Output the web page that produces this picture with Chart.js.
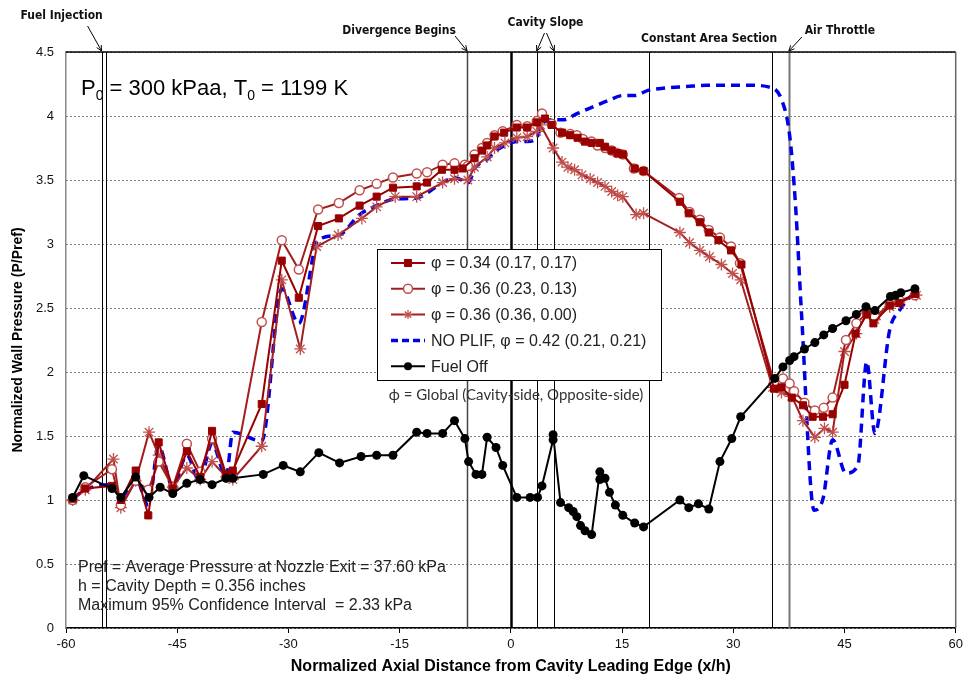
<!DOCTYPE html>
<html><head><meta charset="utf-8">
<script src="https://cdn.jsdelivr.net/npm/chart.js@4.4.0/dist/chart.umd.min.js"></script>
<style>html,body{margin:0;padding:0;background:#fff;} canvas{display:block;}</style>
</head><body>
<canvas id="c" width="963" height="682"></canvas>
<script>
// ---------------- DATA ----------------
const seriesNames = [
  'φ = 0.34 (0.17, 0.17)',
  'φ = 0.36 (0.23, 0.13)',
  'φ = 0.36 (0.36, 0.00)',
  'NO PLIF, φ = 0.42 (0.21, 0.21)',
  'Fuel Off'
];

const sqX = [-59.1,-57.4,-53.8,-52.6,-50.6,-48.9,-47.5,-45.6,-43.7,-41.9,-40.3,-38.4,-37.5,-33.6,-30.9,-28.6,-26.0,-23.2,-20.4,-18.1,-15.9,-12.7,-11.3,-9.3,-7.6,-6.5,-4.9,-3.9,-3.2,-2.2,-0.9,0.8,2.2,3.5,4.6,5.5,6.9,8.0,9.0,10.0,10.9,12.0,12.7,13.6,14.4,15.1,16.7,17.9,22.8,24.0,25.5,26.7,28.0,29.7,31.1,35.5,36.5,37.9,39.4,40.7,42.1,43.4,45.0,46.5,48.0,48.9,51.1,52.4,54.5];
const sqY = [1.01,1.09,1.11,1.00,1.23,0.88,1.45,1.09,1.38,1.18,1.54,1.20,1.23,1.75,2.87,2.58,3.14,3.20,3.30,3.37,3.44,3.45,3.48,3.58,3.58,3.59,3.67,3.73,3.77,3.84,3.87,3.91,3.91,3.95,3.98,3.93,3.87,3.85,3.83,3.80,3.79,3.79,3.76,3.73,3.71,3.70,3.59,3.57,3.33,3.24,3.17,3.09,3.03,2.95,2.84,1.87,1.88,1.80,1.74,1.65,1.65,1.67,1.90,2.30,2.45,2.38,2.52,2.54,2.61];

const ciX = [-59.1,-57.4,-53.8,-52.6,-50.6,-48.9,-47.5,-45.6,-43.7,-41.9,-40.3,-38.4,-37.5,-33.6,-30.9,-28.6,-26.0,-23.2,-20.4,-18.1,-15.9,-12.7,-11.3,-9.2,-7.6,-6.2,-5.8,-4.9,-3.9,-3.2,-2.2,-1.1,0.8,2.2,3.5,4.2,5.5,6.7,8.0,8.9,9.7,10.9,11.7,12.7,13.6,14.3,15.1,16.6,17.9,22.7,24.1,25.5,26.7,28.2,29.7,30.9,35.5,36.7,37.6,38.2,39.6,41.0,42.2,43.4,45.2,46.6,48.0,49.1,51.1,52.4,54.5];
const ciY = [1.00,1.10,1.24,0.96,1.15,1.08,1.30,1.10,1.44,1.22,1.48,1.18,1.18,2.39,3.03,2.80,3.27,3.32,3.42,3.47,3.52,3.55,3.56,3.62,3.63,3.62,3.61,3.70,3.75,3.79,3.85,3.88,3.93,3.92,3.96,4.02,3.94,3.87,3.86,3.85,3.82,3.80,3.77,3.75,3.73,3.71,3.70,3.59,3.57,3.36,3.25,3.19,3.11,3.05,2.98,2.85,1.92,1.95,1.91,1.85,1.76,1.70,1.72,1.80,2.25,2.38,2.46,2.43,2.53,2.56,2.60];

const stX = [-59.1,-57.4,-53.6,-52.6,-50.6,-48.8,-47.5,-45.6,-43.7,-41.9,-40.3,-38.4,-37.5,-33.6,-30.9,-28.4,-26.2,-23.3,-20.1,-18.1,-15.6,-12.7,-9.2,-7.6,-5.8,-4.9,-3.2,-2.2,-0.8,0.8,2.2,3.5,4.0,5.7,6.9,7.7,8.6,9.6,10.7,11.7,12.7,13.6,14.4,15.1,16.9,17.9,22.8,24.1,25.5,26.8,28.4,29.9,31.0,35.3,36.5,37.9,39.4,41.0,42.3,43.4,45.0,46.6,48.0,49.1,51.1,52.4,54.7];
const stY = [1.00,1.08,1.32,0.94,1.15,1.53,1.35,1.10,1.25,1.16,1.30,1.18,1.16,1.42,2.72,2.18,2.98,3.07,3.20,3.29,3.37,3.37,3.48,3.51,3.50,3.60,3.68,3.75,3.79,3.83,3.84,3.88,3.93,3.75,3.64,3.60,3.58,3.54,3.51,3.48,3.45,3.41,3.38,3.37,3.23,3.24,3.09,3.01,2.95,2.90,2.84,2.77,2.72,1.88,1.84,1.81,1.62,1.49,1.56,1.53,2.16,2.30,2.46,2.41,2.51,2.54,2.60];

const blX = [-59.1,-57.4,-53.8,-52.6,-50.6,-48.9,-47.5,-45.6,-43.7,-42.0,-40.3,-38.4,-37.5,-33.6,-30.9,-28.6,-26.0,-23.2,-20.4,-18.1,-15.8,-12.7,-9.2,-7.6,-5.7,-4.9,-3.2,-2.2,-0.8,0.8,2.2,3.5,4.2,5.7,7.0,9.0,11.0,13.1,15.1,16.7,18.5,21.0,23.7,26.4,29.1,32.2,35.2,36.5,37.6,38.4,39.2,40.9,42.1,43.4,45.2,46.8,48.0,49.1,51.1,52.4,54.5];
const blY = [1.01,1.08,1.12,1.02,1.17,0.96,1.42,1.10,1.35,1.15,1.44,1.18,1.53,1.46,2.65,2.38,3.03,3.07,3.23,3.30,3.35,3.36,3.48,3.52,3.48,3.59,3.66,3.72,3.77,3.80,3.80,3.83,3.94,3.97,3.97,4.02,4.07,4.12,4.16,4.16,4.20,4.22,4.23,4.24,4.24,4.24,4.22,4.13,3.85,3.30,2.46,0.92,1.01,1.47,1.21,1.27,2.08,1.52,2.33,2.48,2.63];

const foX = [-59.1,-57.6,-53.8,-52.6,-50.6,-48.8,-47.3,-45.6,-43.7,-41.9,-40.3,-38.4,-37.5,-33.4,-30.7,-28.4,-25.9,-23.1,-20.2,-18.1,-15.9,-12.7,-11.3,-9.2,-7.6,-6.2,-5.7,-4.7,-3.9,-3.2,-2.0,-1.1,0.8,2.6,3.6,4.2,5.7,5.7,6.7,7.8,8.4,8.9,9.4,10.0,10.9,12.0,12.0,12.7,13.3,14.1,15.1,16.7,17.9,22.8,24.0,25.3,26.7,28.2,29.8,31.0,35.6,36.7,37.6,38.2,39.6,41.0,42.2,43.4,45.2,46.6,47.9,49.1,51.2,51.9,52.6,54.5];
const foY = [1.02,1.19,1.09,1.02,1.18,1.02,1.10,1.05,1.13,1.16,1.12,1.17,1.17,1.20,1.27,1.22,1.37,1.29,1.34,1.35,1.35,1.53,1.52,1.52,1.62,1.48,1.30,1.20,1.20,1.49,1.41,1.27,1.02,1.02,1.02,1.11,1.47,1.51,0.98,0.94,0.91,0.87,0.80,0.76,0.73,1.22,1.16,1.17,1.06,0.96,0.88,0.82,0.79,1.00,0.94,0.97,0.93,1.30,1.48,1.65,1.95,2.04,2.09,2.12,2.18,2.23,2.29,2.34,2.40,2.45,2.51,2.48,2.59,2.60,2.62,2.65];

// reference vertical lines (x/h)
const refLinesX = [-55.2, -54.6, -5.9, 0, 3.5, 5.85, 18.65, 35.2, 37.5];
const annotationLabels = ['Fuel Injection','Divergence Begins','Cavity Slope','Constant Area Section','Air Throttle'];
const noteLines = [
  'Pref = Average Pressure at Nozzle Exit = 37.60 kPa',
  'h = Cavity Depth = 0.356 inches',
  'Maximum 95% Confidence Interval  = 2.33 kPa'
];
const phiNote = 'ϕ = Global (Cavity-side, Opposite-side)';
const xTitle = 'Normalized Axial Distance from Cavity Leading Edge (x/h)';
const yTitle = 'Normalized Wall Pressure (P/Pref)';

// ---------------- BUILD ----------------
const pts = (xs, ys) => xs.map((x, i) => ({x, y: ys[i]}));
const DARK = '#990000', RED = '#A31F1F', LIGHT = '#C0504D', BLUE = '#0000E8';

const datasets = [
  {label: seriesNames[0], data: pts(sqX, sqY), showLine: true, borderColor: DARK, backgroundColor: DARK,
   borderWidth: 2, pointStyle: 'rect', pointRadius: 5, pointBorderWidth: 1, pointBorderColor: DARK, pointBackgroundColor: DARK, order: 2},
  {label: seriesNames[1], data: pts(ciX, ciY), showLine: true, borderColor: RED, backgroundColor: '#fff',
   borderWidth: 2, pointStyle: 'circle', pointRadius: 4.5, pointBorderWidth: 1.5, pointBorderColor: LIGHT, pointBackgroundColor: '#fff', order: 3},
  {label: seriesNames[2], data: pts(stX, stY), showLine: true, borderColor: RED, backgroundColor: LIGHT,
   borderWidth: 2, pointStyle: 'star', pointRadius: 6, pointBorderWidth: 1.3, pointBorderColor: LIGHT, pointBackgroundColor: LIGHT, order: 4},
  {label: seriesNames[3], data: pts(blX, blY), showLine: true, borderColor: BLUE, backgroundColor: BLUE,
   borderWidth: 3.5, borderDash: [9, 6], pointRadius: 0, cubicInterpolationMode: 'monotone', order: 5},
  {label: seriesNames[4], data: pts(foX, foY), showLine: true, borderColor: '#000', backgroundColor: '#000',
   borderWidth: 2, pointStyle: 'circle', pointRadius: 4.5, pointBorderWidth: 0, pointBorderColor: '#000', pointBackgroundColor: '#000', order: 1}
];

const FONT = "Arial, 'Liberation Sans', sans-serif";
const NARROW = "'Liberation Sans Narrow', 'DejaVu Sans Condensed', 'Arial Narrow', sans-serif";

function arrow(ctx, x1, y1, x2, y2) {
  ctx.beginPath(); ctx.moveTo(x1, y1); ctx.lineTo(x2, y2); ctx.stroke();
  const a = Math.atan2(y2 - y1, x2 - x1), L = 6, w = 0.45;
  ctx.beginPath();
  ctx.moveTo(x2, y2);
  ctx.lineTo(x2 - L * Math.cos(a - w), y2 - L * Math.sin(a - w));
  ctx.moveTo(x2, y2);
  ctx.lineTo(x2 - L * Math.cos(a + w), y2 - L * Math.sin(a + w));
  ctx.stroke();
}

const decor = {
  id: 'decor',
  beforeDatasetsDraw(chart) {
    const {ctx, chartArea: ca, scales: {x}} = chart;
    ctx.save();
    refLinesX.forEach((v, i) => {
      const px = Math.round(x.getPixelForValue(v)) + 0.5;
      let w = 1, col = '#000';
      if (v === 0) { w = 2.5; }
      if (i === 2) { w = 1.5; col = '#444'; }
      if (i === refLinesX.length - 1) { w = 2; col = '#777'; }
      ctx.strokeStyle = col; ctx.lineWidth = w;
      ctx.beginPath(); ctx.moveTo(px, ca.top); ctx.lineTo(px, ca.bottom); ctx.stroke();
    });
    ctx.strokeStyle = '#000'; ctx.lineWidth = 1.5;
    ctx.beginPath(); ctx.moveTo(ca.left, ca.top); ctx.lineTo(ca.right, ca.top); ctx.stroke();
    ctx.strokeStyle = '#666'; ctx.lineWidth = 1.5;
    ctx.beginPath(); ctx.moveTo(ca.right, ca.top); ctx.lineTo(ca.right, ca.bottom); ctx.stroke();
    ctx.restore();
  },
  afterDatasetsDraw(chart) {
    const {ctx, chartArea: ca, scales: {x}} = chart;
    ctx.save();
    const px = v => x.getPixelForValue(v);
    ctx.font = 'bold 12px ' + NARROW;
    ctx.fillStyle = '#111'; ctx.textAlign = 'center'; ctx.textBaseline = 'middle';
    ctx.strokeStyle = '#000'; ctx.lineWidth = 1;
    const top = ca.top;
    ctx.fillText(annotationLabels[0], px(refLinesX[0]) - 40, 16);
    arrow(ctx, px(refLinesX[0]) - 14, 26, px(refLinesX[0]), top - 1);
    ctx.fillText(annotationLabels[1], px(refLinesX[2]) - 68, 31);
    arrow(ctx, px(refLinesX[2]) - 12, 36, px(refLinesX[2]), top - 1);
    const cs = (px(refLinesX[4]) + px(refLinesX[5])) / 2;
    ctx.fillText(annotationLabels[2], cs, 23);
    arrow(ctx, cs - 1, 33, px(refLinesX[4]), top - 1);
    arrow(ctx, cs + 1, 33, px(refLinesX[5]), top - 1);
    ctx.fillText(annotationLabels[3], px(refLinesX[6]) + 60, 39);
    ctx.fillText(annotationLabels[4], px(refLinesX[8]) + 51, 31);
    arrow(ctx, px(refLinesX[8]) + 13, 37, px(refLinesX[8]), top - 1);

    // P0 / T0 label
    ctx.textAlign = 'left'; ctx.textBaseline = 'alphabetic'; ctx.fillStyle = '#000';
    let tx = ca.left + 15; const ty = 95;
    const big = '22px ' + FONT, small = '14px ' + FONT;
    const parts = [['P', big, 0], ['0', small, 5], [' = 300 kPaa, T', big, 0], ['0', small, 5], [' = 1199 K', big, 0]];
    parts.forEach(([t, f, dy]) => { ctx.font = f; ctx.fillText(t, tx, ty + dy); tx += ctx.measureText(t).width; });

    // notes bottom-left
    ctx.font = '16px ' + FONT; ctx.fillStyle = '#222';
    noteLines.forEach((t, i) => ctx.fillText(t, ca.left + 12, 572 + i * 19));

    // legend
    const L = {x: 377.5, y: 249.5, w: 284, h: 131};
    ctx.fillStyle = '#fff'; ctx.fillRect(L.x, L.y, L.w, L.h);
    ctx.strokeStyle = '#000'; ctx.lineWidth = 1; ctx.strokeRect(L.x, L.y, L.w, L.h);
    ctx.textBaseline = 'middle';
    chart.data.datasets.forEach((ds, i) => {
      const yy = 263 + i * 25.8, x1 = 391, x2 = 425, xm = 408;
      ctx.save();
      ctx.strokeStyle = ds.borderColor; ctx.lineWidth = ds.borderWidth;
      if (ds.borderDash) ctx.setLineDash([7, 4]);
      ctx.beginPath(); ctx.moveTo(x1, yy); ctx.lineTo(x2, yy); ctx.stroke();
      ctx.restore();
      if (ds.pointRadius > 0) {
        ctx.save();
        ctx.fillStyle = ds.pointBackgroundColor;
        ctx.strokeStyle = ds.pointBorderColor;
        ctx.lineWidth = ds.pointBorderWidth || 0;
        Chart.helpers.drawPoint(ctx, {
          pointStyle: ds.pointStyle, rotation: 0,
          radius: i === 0 ? 5 : (i === 4 ? 4 : 4.5), borderWidth: ds.pointBorderWidth
        }, xm, yy);
        ctx.restore();
      }
      ctx.font = '16px ' + FONT; ctx.fillStyle = '#222'; ctx.textAlign = 'left';
      ctx.fillText(ds.label, 431, yy + 1);
    });

    ctx.font = "15px Lato, 'Open Sans', sans-serif"; ctx.fillStyle = '#333'; ctx.textAlign = 'center';
    ctx.fillText(phiNote, 516, 395);
    ctx.restore();
  }
};

new Chart(document.getElementById('c'), {
  type: 'scatter',
  data: {datasets},
  options: {
    responsive: false, animation: false, devicePixelRatio: 1,
    layout: {padding: {top: 52, right: 7, left: 0, bottom: 0}},
    plugins: {legend: {display: false}, tooltip: {enabled: false}},
    scales: {
      x: {
        type: 'linear', min: -60, max: 60,
        afterFit: s => { s.height = 54; s.paddingLeft = 0; s.paddingRight = 0; },
        ticks: {stepSize: 15, color: '#111', font: {family: FONT, size: 13}, padding: 4, maxRotation: 0},
        grid: {drawOnChartArea: false, drawTicks: true, tickLength: 5, color: '#000'},
        border: {color: '#000', width: 1.5},
        title: {display: true, text: xTitle, color: '#000', font: {family: FONT, size: 16, weight: 'bold'}, padding: {top: 0, bottom: 6}}
      },
      y: {
        min: 0, max: 4.5,
        afterFit: s => { s.width = 66; },
        ticks: {stepSize: 0.5, color: '#111', font: {family: FONT, size: 13}, padding: 12,
                callback: v => String(+v.toFixed(1))},
        grid: {drawTicks: false, color: '#000', lineWidth: 1},
        border: {color: '#888', width: 1.5, dash: [1, 3]},
        title: {display: true, text: yTitle, color: '#000', font: {family: FONT, size: 14, weight: 'bold'}, padding: {top: 10, bottom: 0}}
      }
    }
  },
  plugins: [decor]
});
</script></body></html>
